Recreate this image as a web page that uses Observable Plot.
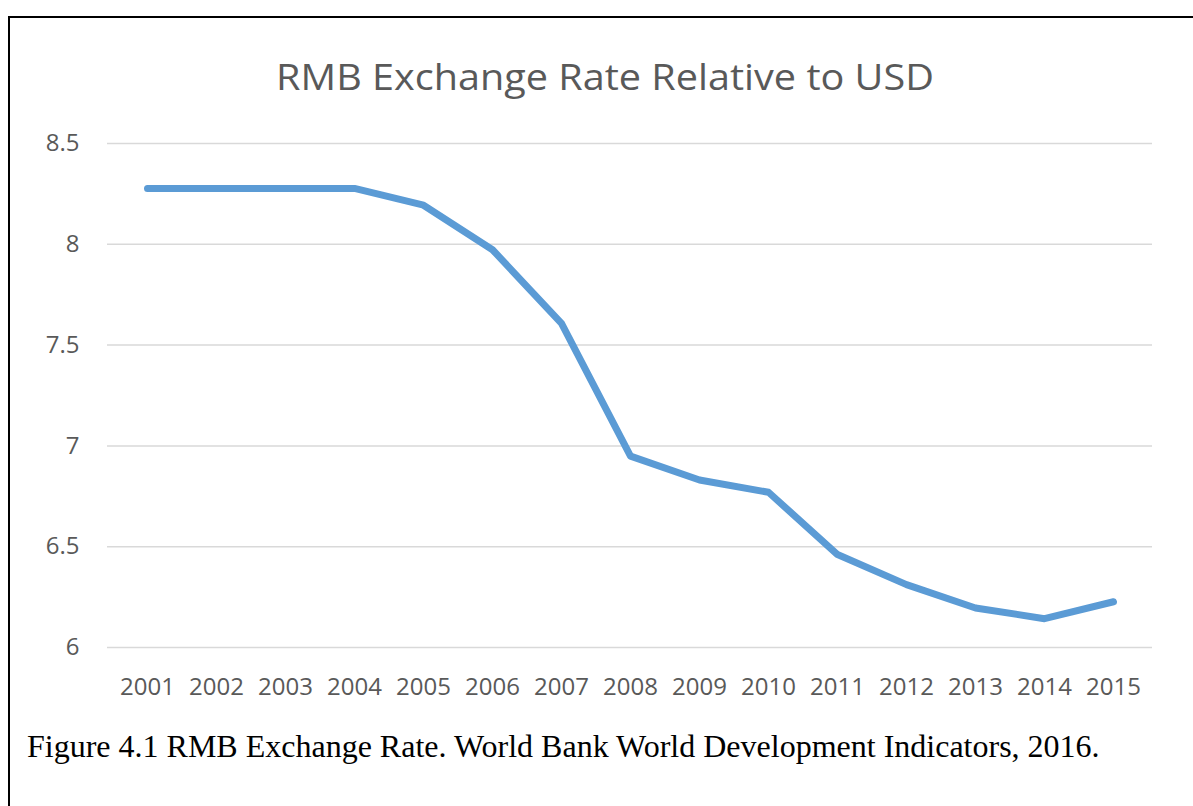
<!DOCTYPE html>
<html>
<head>
<meta charset="utf-8">
<script src="https://cdn.jsdelivr.net/npm/d3@7"></script>
<script src="https://cdn.jsdelivr.net/npm/@observablehq/plot@0.6"></script>
<style>
  html, body { margin: 0; padding: 0; background: #fff; overflow: hidden; }
  #page { position: relative; width: 1193px; height: 806px; overflow: hidden; }
  #frame { position: absolute; left: 8px; top: 16px; width: 1300px; height: 900px;
           border: 2px solid #000; box-sizing: border-box; }
  #title { position: absolute; left: 0; width: 1210px; top: 50px; text-align: center;
           font-family: "Open Sans", sans-serif; font-size: 37px; color: #595959; white-space: nowrap;
           transform: scaleX(1.07); transform-origin: 605px 0; }
  #chart { position: absolute; left: 0; top: 100px; }
  #caption { position: absolute; left: 27px; top: 728px; font-family: "Liberation Serif", "Times New Roman", serif;
             font-size: 32px; color: #000; white-space: nowrap; }
</style>
</head>
<body>
<div id="page">
  <div id="frame"></div>
  <div id="title"></div>
  <div id="chart"></div>
  <div id="caption"></div>
</div>
<script>
const titleText = "RMB Exchange Rate Relative to USD";
const captionText = "Figure 4.1 RMB Exchange Rate. World Bank World Development Indicators, 2016.";
const years = ["2001","2002","2003","2004","2005","2006","2007","2008","2009","2010","2011","2012","2013","2014","2015"];
const rates = [8.277, 8.277, 8.277, 8.277, 8.194, 7.973, 7.608, 6.949, 6.831, 6.770, 6.461, 6.312, 6.196, 6.143, 6.227];
const yTicks = [6, 6.5, 7, 7.5, 8, 8.5];

document.getElementById("title").textContent = titleText;
document.getElementById("caption").textContent = captionText;

const data = years.map((y, i) => ({year: y, rate: rates[i]}));

const chart = Plot.plot({
  width: 1193,
  height: 620,
  marginLeft: 107,
  marginRight: 41,
  marginTop: 43,
  marginBottom: 73,
  style: {fontFamily: "'Open Sans', sans-serif", fontSize: "24px", color: "#595959", background: "transparent", overflow: "visible"},
  x: {type: "point", domain: years, padding: 0.5, label: null},
  y: {domain: [6, 8.5], ticks: yTicks, label: null},
  marks: [
    Plot.gridY(yTicks, {stroke: "#d9d9d9", strokeOpacity: 1, strokeWidth: 1.5}),
    Plot.axisY({ticks: yTicks, tickSize: 0, tickPadding: 28, tickFormat: d => String(d), fill: "#595959", fontSize: 24, label: null}),
    Plot.axisX({tickSize: 0, tickPadding: 30, fill: "#595959", fontSize: 24, label: null}),
    Plot.line(data, {x: "year", y: "rate", stroke: "#5b9bd5", strokeWidth: 7, strokeLinecap: "round", strokeLinejoin: "round"})
  ]
});
document.getElementById("chart").appendChild(chart);
</script>
</body>
</html>
